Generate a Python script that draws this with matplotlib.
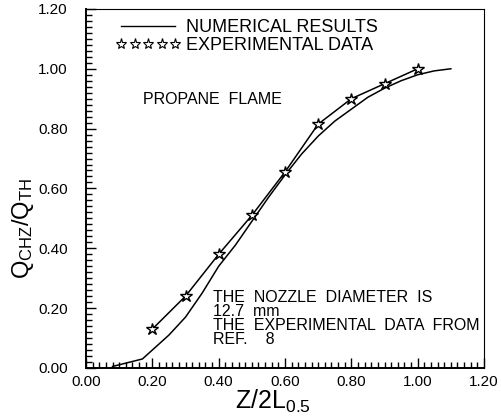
import matplotlib
matplotlib.use("Agg")
import matplotlib.pyplot as plt
from matplotlib.lines import Line2D
from matplotlib.ticker import MultipleLocator, FormatStrFormatter

plt.rcParams['font.family'] = ['Liberation Sans', 'DejaVu Sans']
plt.rcParams['mathtext.fontset'] = 'custom'
plt.rcParams['mathtext.rm'] = 'Liberation Sans'
plt.rcParams['mathtext.it'] = 'Liberation Sans'

# Numerical results
num_x = [0.08, 0.17, 0.20, 0.25, 0.30, 0.35, 0.40, 0.45, 0.50, 0.55, 0.60,
         0.65, 0.70, 0.75, 0.80, 0.85, 0.90, 0.95, 1.00, 1.05, 1.10]
num_y = [0.005, 0.03, 0.06, 0.11, 0.17, 0.25, 0.34, 0.41, 0.49, 0.57, 0.645,
         0.715, 0.775, 0.825, 0.865, 0.905, 0.935, 0.96, 0.98, 0.993, 1.0]

# Experimental data
exp_x = [0.2, 0.3, 0.4, 0.5, 0.6, 0.7, 0.8, 0.9, 1.0]
exp_y = [0.13, 0.24, 0.38, 0.51, 0.655, 0.815, 0.90, 0.95, 1.0]

fig = plt.figure(figsize=(5.01, 4.16), dpi=100)
ax = fig.add_axes([0.1717, 0.1155, 0.7944, 0.8630])

ax.plot(num_x, num_y, color='black', lw=1.1)
ax.plot(exp_x, exp_y, color='black', lw=1.1, marker='*', markersize=9,
        markerfacecolor='white', markeredgecolor='black', markeredgewidth=1.0)

ax.set_xlim(0, 1.2)
ax.set_ylim(0, 1.2)
ax.xaxis.set_major_locator(MultipleLocator(0.2))
ax.xaxis.set_minor_locator(MultipleLocator(0.02))
ax.yaxis.set_major_locator(MultipleLocator(0.2))
ax.yaxis.set_minor_locator(MultipleLocator(0.02))
ax.xaxis.set_major_formatter(FormatStrFormatter('%.2f'))
ax.yaxis.set_major_formatter(FormatStrFormatter('%.2f'))
ax.tick_params(which='both', direction='in', top=False, right=False,
               labelsize=11, width=1.0)
ax.tick_params(which='major', length=7)
ax.tick_params(which='minor', length=4)
ax.tick_params(axis='x', which='major', pad=5)
ax.tick_params(axis='y', which='major', pad=13)
for s in ['left', 'bottom']:
    ax.spines[s].set_linewidth(1.4)
for s in ['top', 'right']:
    ax.spines[s].set_linewidth(0.8)

ax.set_xlabel(r'$\mathregular{Z/2L_{0.5}}$', fontsize=18)
ax.xaxis.set_label_coords(0.47, -0.055)
ax.set_ylabel(r'$\mathregular{Q_{CHZ}/Q_{TH}}$', fontsize=17)
ax.yaxis.set_label_coords(-0.125, 0.39)

handles = [Line2D([], [], color='black', lw=1.0),
           Line2D([], [], color='black', ls='none', marker='*', markersize=8,
                  markerfacecolor='white', markeredgecolor='black', markeredgewidth=0.8)]
ax.legend(handles, ['NUMERICAL RESULTS', 'EXPERIMENTAL DATA'], loc='upper left',
          bbox_to_anchor=(0.075, 0.972), frameon=False, fontsize=13,
          numpoints=5, handlelength=3.6, handletextpad=0.3, labelspacing=0.05,
          borderaxespad=0, borderpad=0, handleheight=0.7)

ax.text(0.172, 0.896, 'PROPANE  FLAME', fontsize=11.5, va='center', ha='left')
ax.text(0.383, 0.262,
        'THE  NOZZLE  DIAMETER  IS\n12.7  mm\nTHE  EXPERIMENTAL  DATA  FROM\nREF.    8',
        fontsize=11.5, va='top', ha='left', linespacing=0.94)

fig.savefig('out.png', dpi=100)
